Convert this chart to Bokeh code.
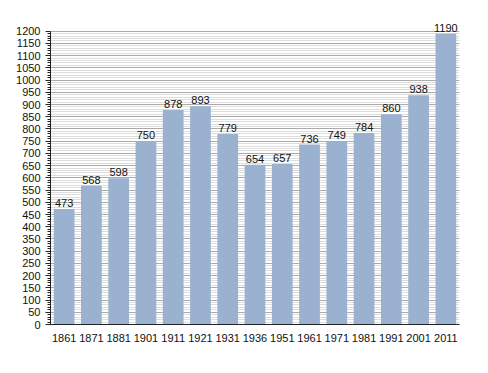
from bokeh.plotting import figure
from bokeh.models import ColumnDataSource, Range1d, SingleIntervalTicker, FactorRange
from bokeh.embed import file_html
from bokeh.resources import INLINE
from bokeh.core.properties import value

years = ["1861", "1871", "1881", "1901", "1911", "1921", "1931", "1936",
         "1951", "1961", "1971", "1981", "1991", "2001", "2011"]
population = [473, 568, 598, 750, 878, 893, 779, 654, 657, 736, 749, 784, 860, 938, 1190]

src = ColumnDataSource(dict(x=years, y=population, lbl=[str(v) for v in population]))

p = figure(x_range=FactorRange(*years, range_padding=0), y_range=Range1d(0, 1252),
           width=478, height=362, output_backend="svg", toolbar_location=None,
           min_border_left=50, min_border_right=19, min_border_top=18, min_border_bottom=38)
p.outline_line_color = None
p.background_fill_color = "white"

p.vbar(x="x", top="y", width=0.76, source=src, fill_color="#9ab2cf", line_color=None)
p.text(x="x", y="y", text="lbl", source=src, text_align="center", text_baseline="bottom",
       text_font=value("Liberation Sans"), text_font_size="11px", text_color="#111111",
       y_offset=-2)

ax = p.yaxis[0]
ax.ticker = SingleIntervalTicker(interval=50, num_minor_ticks=5)
ax.bounds = (0, 1200)
ax.major_tick_out = 5
ax.major_tick_in = 0
ax.minor_tick_out = 3
ax.minor_tick_in = 0
ax.major_label_standoff = 5
ax.major_label_text_font = "Liberation Sans"
ax.major_label_text_font_size = "11px"
ax.major_label_text_color = "#111111"
ax.axis_line_color = "#222222"
ax.major_tick_line_color = "#222222"
ax.minor_tick_line_color = "#222222"

xa = p.xaxis[0]
xa.major_tick_line_color = None
xa.minor_tick_line_color = None
xa.major_label_standoff = 3
xa.major_label_text_font = "Liberation Sans"
xa.major_label_text_font_size = "11px"
xa.major_label_text_color = "#111111"
xa.axis_line_color = "#222222"

p.xgrid.grid_line_color = None
p.ygrid.grid_line_color = "#aaaaaa"
p.ygrid.minor_grid_line_color = "#dddddd"
p.ygrid.level = "image"

open("out.html", "w").write(file_html(p, INLINE))
